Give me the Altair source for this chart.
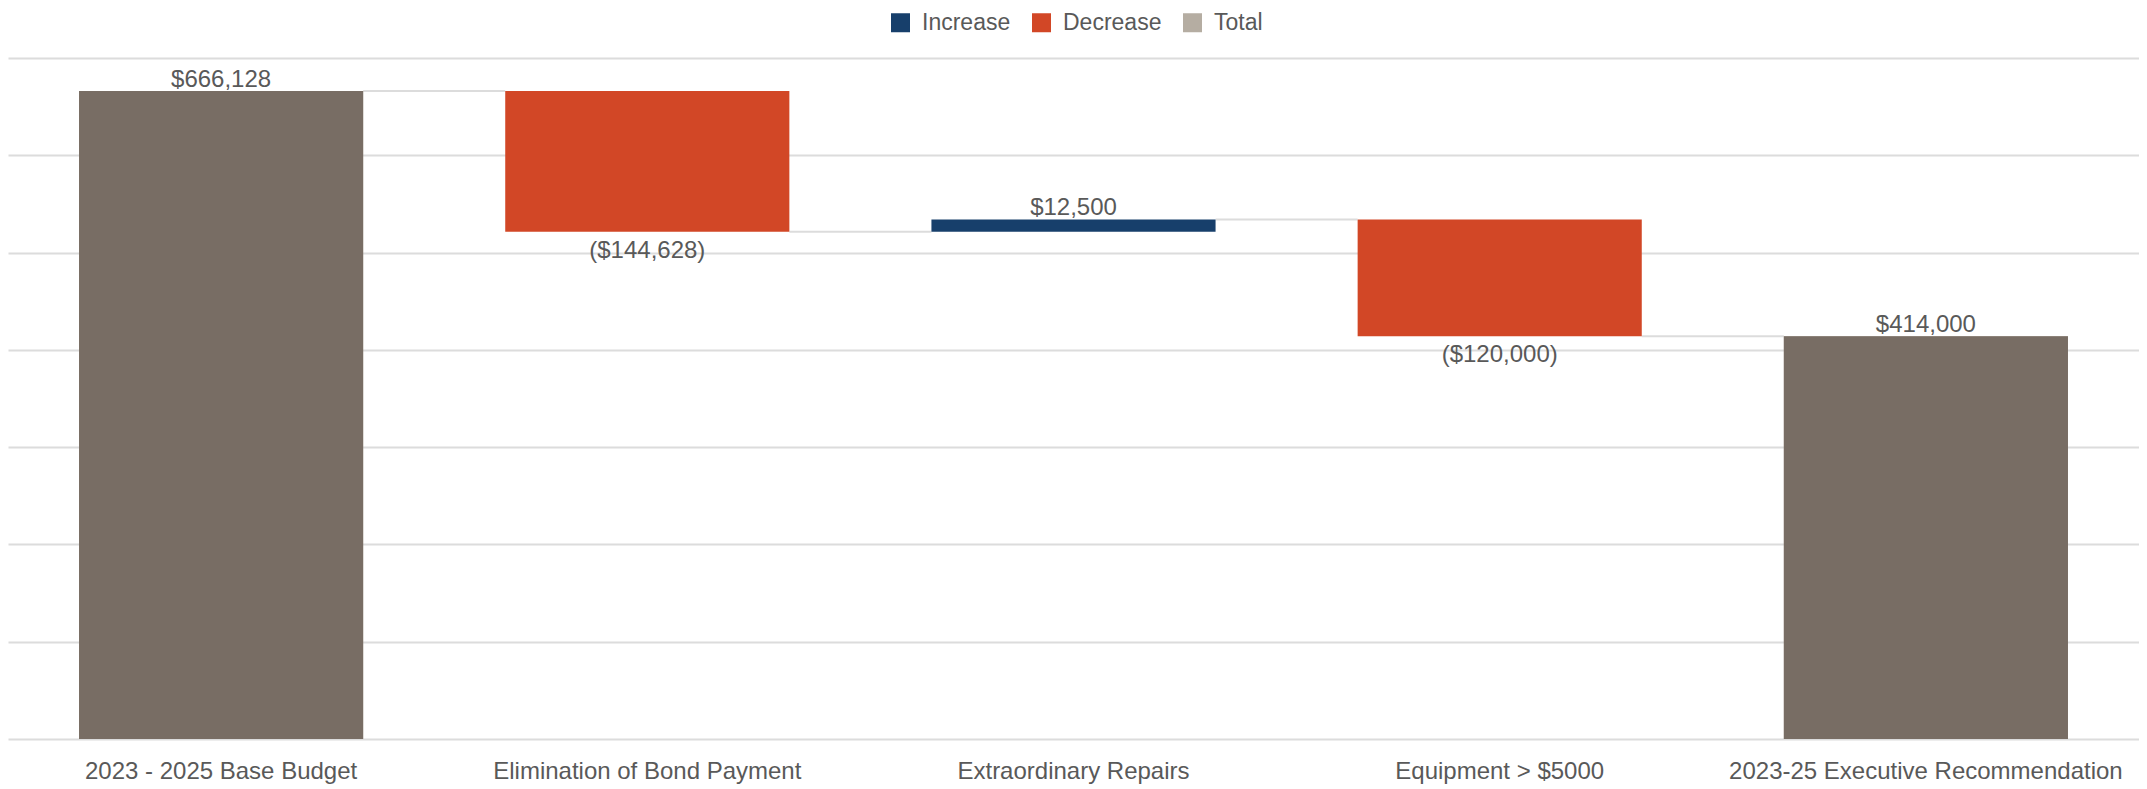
import altair as alt
import pandas as pd

categories = [
    "2023 - 2025 Base Budget",
    "Elimination of Bond Payment",
    "Extraordinary Repairs",
    "Equipment > $5000",
    "2023-25 Executive Recommendation",
]
amounts = [666128, -144628, 12500, -120000, 414000]
kinds = ["Total", "Decrease", "Increase", "Decrease", "Total"]
value_labels = ["$666,128", "($144,628)", "$12,500", "($120,000)", "$414,000"]

legend_order = ["Increase", "Decrease", "Total"]
legend_colors = ["#173f6b", "#d24726", "#b5ada2"]
total_color = "#786d64"
text_color = "#595959"
grid_color = "#dcdcdc"
FONT = "Liberation Sans"
FS = 24

rows = []
running = 0
for c, a, k, lab in zip(categories, amounts, kinds, value_labels):
    if k == "Total":
        s, e = 0, a
    else:
        s, e = running, running + a
    running = e
    rows.append(dict(cat=c, kind=k, start=s, end=e, top=max(s, e), bottom=min(s, e),
                     label=lab, pos="below" if k == "Decrease" else "above"))
df = pd.DataFrame(rows)

conn = pd.DataFrame([
    dict(cat=rows[i]["cat"], nxt=rows[i + 1]["cat"], level=rows[i]["end"])
    for i in range(len(rows) - 1)
])

xscale = alt.Scale(domain=categories, paddingInner=1 / 3, paddingOuter=1 / 6)
yscale = alt.Scale(domain=[0, 700000], nice=False)

x_enc = alt.X("cat:N", scale=xscale, sort=categories, title=None,
              axis=alt.Axis(labelAngle=0, labelAlign="center", bandPosition=0.5,
                            labelFont=FONT, labelFontSize=FS, labelColor=text_color,
                            ticks=False, domain=False, labelPadding=32, labelLimit=0, grid=False))
y_enc = alt.Y("bottom:Q", scale=yscale, title=None,
              axis=alt.Axis(labels=False, ticks=False, domain=False, grid=True,
                            gridColor=grid_color, gridWidth=2, values=list(range(0, 700001, 100000))))

base = alt.Chart(df)

bars = base.mark_bar().encode(
    x=x_enc,
    y=y_enc,
    y2="top:Q",
    color=alt.Color("kind:N", scale=alt.Scale(domain=legend_order, range=legend_colors),
                    legend=alt.Legend(title=None, orient="none", direction="horizontal",
                                      legendX=881, legendY=-47, symbolType="square",
                                      symbolSize=361, symbolStrokeWidth=0, labelFont=FONT,
                                      labelFontSize=23, labelColor=text_color, labelOffset=10,
                                      columnPadding=19)),
)

totals = base.transform_filter(alt.datum.kind == "Total").mark_bar(color=total_color).encode(
    x=alt.X("cat:N", scale=xscale, sort=categories),
    y=alt.Y("bottom:Q", scale=yscale),
    y2="top:Q",
)

connectors = alt.Chart(conn).mark_rule(color=grid_color, strokeWidth=2).encode(
    x=alt.X("cat:N", scale=xscale, sort=categories, bandPosition=1),
    x2=alt.X2("nxt:N", bandPosition=0),
    y=alt.Y("level:Q", scale=yscale),
)

above = base.transform_filter(alt.datum.pos == "above").mark_text(
    baseline="bottom", dy=1, font=FONT, fontSize=FS, color=text_color
).encode(
    x=alt.X("cat:N", scale=xscale, sort=categories),
    y=alt.Y("top:Q", scale=yscale),
    text="label:N",
)

below = base.transform_filter(alt.datum.pos == "below").mark_text(
    baseline="top", dy=7, font=FONT, fontSize=FS, color=text_color
).encode(
    x=alt.X("cat:N", scale=xscale, sort=categories),
    y=alt.Y("bottom:Q", scale=yscale),
    text="label:N",
)

chart = alt.layer(connectors, bars, totals, above, below).properties(
    width=2131,
    height=681,
    autosize=alt.AutoSizeParams(type="none"),
    padding={"left": 0, "top": 50, "right": 0, "bottom": 48},
).configure_view(stroke=None)

chart.save("out.html", embed_options={"renderer": "svg", "actions": False})
